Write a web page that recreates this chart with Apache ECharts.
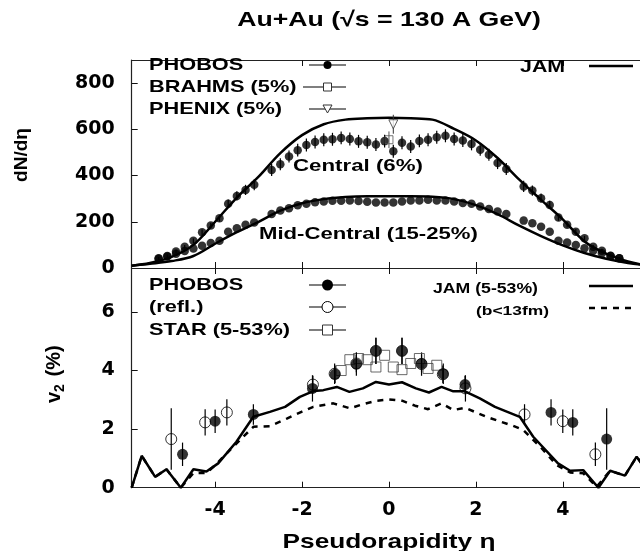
<!DOCTYPE html>
<html><head><meta charset="utf-8">
<script src="https://cdn.jsdelivr.net/npm/echarts@6/dist/echarts.min.js"></script>
<style>html,body{margin:0;padding:0;background:#fff}#c{width:640px;height:551px}</style>
</head><body><div id="c"></div>
<script>
// ---------- data: top panel (dN/deta) ----------
const etaBins = [-5.3,-5.1,-4.9,-4.7,-4.5,-4.3,-4.1,-3.9,-3.7,-3.5,-3.3,-3.1,-2.7,-2.5,-2.3,-2.1,-1.9,-1.7,-1.5,-1.3,-1.1,-0.9,-0.7,-0.5,-0.3,-0.1,0.1,0.3,0.5,0.7,0.9,1.1,1.3,1.5,1.7,1.9,2.1,2.3,2.5,2.7,3.1,3.3,3.5,3.7,3.9,4.1,4.3,4.5,4.7,4.9,5.1,5.3];
const phobosCentral = [42,52,71,92,118,155,184,215,278,312,338,360,424,449,482,510,532,545,555,557,563,558,548,544,534,549,505,542,526,550,555,566,572,558,552,537,512,490,454,428,353,335,302,273,218,187,157,129,92,75,53,42];
const phobosCentralErr = [6,6,8,8,10,12,12,14,18,20,22,24,26,26,26,28,28,28,28,28,28,28,28,28,28,28,28,28,28,28,28,28,28,28,28,28,26,26,26,26,24,22,20,18,14,12,12,10,8,8,6,6];
const phobosMid = [40,50,62,74,84,96,108,118,157,172,187,197,234,249,259,272,278,285,288,291,291,292,290,287,283,283,283,288,292,292,295,292,292,288,281,278,266,255,244,234,205,194,179,157,118,110,100,85,75,64,52,42];
const jamEta = [-5.92,-5.5,-5.0,-4.5,-4.0,-3.5,-3.0,-2.5,-2.0,-1.5,-1.0,-0.5,0,0.5,1.0,1.5,2.0,2.5,3.0,3.5,4.0,4.5,5.0,5.5,5.92];
const jamCentral = [10,22,48,100,200,305,395,497,575,622,642,648,650,648,642,602,552,476,382,295,210,115,62,28,12];
const jamMid = [10,18,30,52,105,155,200,248,280,298,307,310,310,310,308,298,272,233,183,138,98,65,40,22,12];
const brahmsEta = [0.0], brahmsVal = [555], brahmsErr = [36];
const phenixEta = [0.1], phenixVal = [622], phenixErr = [41];

// ---------- data: bottom panel (v2) ----------
const v2PhobosEta = [-4.75,-4.0,-3.12,-1.76,-1.24,-0.75,-0.3,0.3,0.75,1.25,1.75,3.73,4.23,5.01];
const v2Phobos    = [1.14,2.27,2.50,3.39,3.87,4.22,4.67,4.67,4.24,3.89,3.52,2.57,2.23,1.66];
const v2PhobosErr = [0.4,0.4,0.35,0.45,0.3,0.4,0.45,0.45,0.3,0.35,0.3,0.45,0.45,1.05];
const v2ReflEta = [4.75,4.0,3.12,1.76,1.24,0.75,0.3,-0.3,-0.75,-1.25,-1.75,-3.73,-4.23,-5.01];
const v2Refl    = [1.14,2.27,2.50,3.39,3.87,4.22,4.67,4.67,4.24,3.89,3.52,2.57,2.23,1.66];
const v2ReflErr = [0.4,0.4,0.35,0.45,0.3,0.4,0.45,0.45,0.3,0.35,0.3,0.45,0.45,1.05];
const starEta = [-1.1,-0.9,-0.7,-0.5,-0.3,-0.1,0.1,0.3,0.5,0.7,0.9,1.1];
const starV2  = [4.0,4.37,4.41,4.37,4.12,4.52,4.12,4.03,4.24,4.41,4.07,4.18];
const jamV2Eta = [-5.92,-5.69,-5.38,-5.12,-4.79,-4.5,-4.2,-3.93,-3.51,-3.12,-2.74,-2.39,-2.05,-1.74,-1.51,-1.2,-0.91,-0.6,-0.3,0,0.3,0.62,0.92,1.21,1.48,1.75,2.09,2.44,3.01,3.32,3.89,4.17,4.47,4.82,5.09,5.43,5.70,5.92];
const jamV2    = [0,1.09,0.37,0.63,0,0.63,0.55,0.83,1.57,2.42,2.59,2.76,3.1,3.3,3.33,3.44,3.27,3.39,3.61,3.52,3.6,3.39,3.25,3.44,3.29,3.29,3.05,2.76,2.42,1.74,0.83,0.58,0.6,0,0.58,0.41,1.06,0.6];
const jamBEta = [-5.92,-5.69,-5.38,-5.12,-4.79,-4.5,-4.2,-4.0,-3.58,-3.12,-2.74,-2.35,-2.0,-1.74,-1.28,-0.9,-0.6,-0.28,0,0.3,0.6,0.9,1.21,1.48,1.75,2.24,2.86,3.09,3.48,3.86,4.17,4.47,4.78,5.09,5.43,5.70,5.92];
const jamB    = [0,1.09,0.37,0.63,0,0.5,0.5,0.77,1.4,2.08,2.1,2.36,2.6,2.76,2.88,2.71,2.85,2.97,3.01,2.97,2.8,2.68,2.88,2.65,2.73,2.42,2.11,1.97,1.4,0.77,0.52,0.49,0.03,0.58,0.41,1.06,0.6];

// ---------- tick labels ----------
const xTicks = [-4,-2,0,2,4];
const yTopTicks = [0,200,400,600,800];
const yBotTicks = [0,2,4,6];

const zip = (a,b,c) => a.map((v,i)=> c ? [v,b[i],c[i]] : [v,b[i]]);
const FONT = '"Liberation Sans", Arial, sans-serif';
const TICKFONT = '"DejaVu Sans", sans-serif';

function errBar(color, lw){
  return function(params, api){
    const x = api.value(0), y = api.value(1), e = api.value(2);
    const p1 = api.coord([x, y - e]), p2 = api.coord([x, y + e]);
    return {type:'line', shape:{x1:p1[0],y1:p1[1],x2:p2[0],y2:p2[1]}, style:{stroke:color, lineWidth:lw}};
  };
}

const chart = echarts.init(document.getElementById('c'), null, {renderer:'canvas'});
const L = 131.7;
const AXLINE = {show:true, onZero:false, lineStyle:{color:'#222', width:1.2}};
const axisBase = (gi, pos, labels) => ({
  type:'value', gridIndex:gi, position:pos, min:-5.92, max:5.777,
  axisLine:AXLINE, splitLine:{show:false},
  axisTick:{show:true, inside:true, length:6, customValues:xTicks, lineStyle:{color:'#111', width:1}},
  axisLabel: labels ? {show:true, customValues:xTicks, margin:13, fontFamily:TICKFONT, fontWeight:'bold', fontSize:19, color:'#000'} : {show:false}
});

function txt(x, y, text, size, opts){
  opts = opts || {};
  return {type:'text', x:x, y:y, scaleX: opts.sx || 1.28, scaleY:1, z:100,
    style:{text:text, font:'bold '+size+'px '+FONT, fill:'#000',
      textAlign: opts.align || 'left', align: opts.align || 'left',
      textVerticalAlign:'middle', verticalAlign:'middle'}};
}
function lineG(x1,y1,x2,y2,w,dash){
  return {type:'line', z:100, shape:{x1:x1,y1:y1,x2:x2,y2:y2}, style:{stroke:'#000', lineWidth:w, lineDash:dash||null}};
}

const graphics = [
  txt(389, 20, 'Au+Au (\u221As = 130 A GeV)', 21, {align:'center', sx:1.27}),
  txt(389, 542, 'Pseudorapidity \u03b7', 20.5, {align:'center', sx:1.28}),
  {type:'text', x:22, y:155, rotation:Math.PI/2, z:100, style:{text:'dN/d\u03b7', font:'bold 19px '+FONT, fill:'#000', textAlign:'center', align:'center', textVerticalAlign:'middle', verticalAlign:'middle'}},
  {type:'group', x:54, y:376, rotation:Math.PI/2, z:100, children:[
    {type:'text', x:-27, y:0, style:{text:'v', font:'bold 20px '+FONT, fill:'#000', textAlign:'left', align:'left', textVerticalAlign:'middle', verticalAlign:'middle'}},
    {type:'text', x:-16, y:6, style:{text:'2', font:'bold 14px '+FONT, fill:'#000', textAlign:'left', align:'left', textVerticalAlign:'middle', verticalAlign:'middle'}},
    {type:'text', x:-6, y:0, style:{text:' (%)', font:'bold 20px '+FONT, fill:'#000', textAlign:'left', align:'left', textVerticalAlign:'middle', verticalAlign:'middle'}}
  ]},
  // top legend
  txt(149, 65, 'PHOBOS', 17), txt(149, 87, 'BRAHMS (5%)', 17), txt(149, 109, 'PHENIX (5%)', 17),
  lineG(309,65,346,65,1.2), {type:'circle', z:101, shape:{cx:327.5, cy:65, r:4}, style:{fill:'#000'}},
  lineG(303,87,346,87,1.2), {type:'rect', z:101, shape:{x:323.5, y:83, width:8, height:8}, style:{fill:'#fff', stroke:'#333', lineWidth:1}},
  lineG(309,109,346,109,1.2), {type:'polygon', z:101, shape:{points:[[323,105],[332,105],[327.5,113]]}, style:{fill:'#fff', stroke:'#333', lineWidth:1}},
  txt(520, 67, 'JAM', 16.7), lineG(589,66,633,66,2.5),
  txt(293, 166, 'Central (6%)', 17.4),
  txt(259, 234, 'Mid-Central (15-25%)', 17.3),
  // bottom legend
  txt(149, 285, 'PHOBOS', 17), txt(149, 307, '(refl.)', 17), txt(149, 330, 'STAR (5-53%)', 17),
  lineG(309,285,346,285,1.2), {type:'circle', z:101, shape:{cx:327.5, cy:285, r:5.5}, style:{fill:'#000'}},
  lineG(309,307,346,307,1.2), {type:'circle', z:101, shape:{cx:327.5, cy:307, r:5.5}, style:{fill:'#fff', stroke:'#000', lineWidth:1}},
  lineG(309,330,346,330,1.2), {type:'rect', z:101, shape:{x:322.5, y:325, width:10, height:10}, style:{fill:'#fff', stroke:'#333', lineWidth:1}},
  txt(433, 289, 'JAM (5-53%)', 13.8), txt(476, 311, '(b<13fm)', 13.6),
  lineG(589,286,633,286,2.5), lineG(589,308,633,308,2.5,[6,6])
];

const option = {
  animation:false,
  backgroundColor:'#fff',
  grid:[
    {left:L, top:60, right:0, height:208, show:false},
    {left:L, top:268, right:0, height:219.7, show:false}
  ],
  xAxis:[
    axisBase(0,'bottom',false), axisBase(0,'top',false),
    axisBase(1,'bottom',true), axisBase(1,'top',false)
  ],
  yAxis:[
    {type:'value', gridIndex:0, position:'left', min:0, max:900, axisLine:AXLINE, splitLine:{show:false},
     axisTick:{show:true, inside:true, length:6, customValues:[200,400,600,800], lineStyle:{color:'#111', width:1}},
     axisLabel:{customValues:yTopTicks, margin:17, fontFamily:TICKFONT, fontWeight:'bold', fontSize:19, color:'#000'}},
    {type:'value', gridIndex:1, position:'left', min:0, max:7.5, axisLine:AXLINE, splitLine:{show:false},
     axisTick:{show:true, inside:true, length:6, customValues:[2,4,6], lineStyle:{color:'#111', width:1}},
     axisLabel:{customValues:yBotTicks, margin:17, fontFamily:TICKFONT, fontWeight:'bold', fontSize:19, color:'#000'}}
  ],
  series:[
    {type:'line', xAxisIndex:0, yAxisIndex:0, data:zip(jamEta,jamCentral), smooth:0.35, showSymbol:false, lineStyle:{color:'#000', width:2.5}, z:3},
    {type:'line', xAxisIndex:0, yAxisIndex:0, data:zip(jamEta,jamMid), smooth:0.35, showSymbol:false, lineStyle:{color:'#000', width:2.5}, z:3},
    {type:'custom', xAxisIndex:0, yAxisIndex:0, data:zip(etaBins,phobosCentral,phobosCentralErr), renderItem:errBar('#000',1.2), encode:{x:0,y:1}, z:4},
    {type:'scatter', xAxisIndex:0, yAxisIndex:0, data:zip(etaBins,phobosCentral), symbol:'circle', symbolSize:8.5, itemStyle:{color:'#000'}, z:5},
    {type:'scatter', xAxisIndex:0, yAxisIndex:0, data:zip(etaBins,phobosMid), symbol:'circle', symbolSize:8.5, itemStyle:{color:'#000'}, z:5},
    {type:'custom', xAxisIndex:0, yAxisIndex:0, data:zip(brahmsEta,brahmsVal,brahmsErr), renderItem:errBar('#555',1), encode:{x:0,y:1}, z:6},
    {type:'scatter', xAxisIndex:0, yAxisIndex:0, data:zip(brahmsEta,brahmsVal), symbol:'rect', symbolSize:8, itemStyle:{color:'rgba(255,255,255,0)', borderColor:'#555', borderWidth:1}, z:6},
    {type:'custom', xAxisIndex:0, yAxisIndex:0, data:zip(phenixEta,phenixVal,phenixErr), renderItem:errBar('#333',1), encode:{x:0,y:1}, z:6},
    {type:'scatter', xAxisIndex:0, yAxisIndex:0, data:zip(phenixEta,phenixVal), symbol:'triangle', symbolRotate:180, symbolSize:9, itemStyle:{color:'#fff', borderColor:'#333', borderWidth:1}, z:6},

    {type:'line', xAxisIndex:2, yAxisIndex:1, data:zip(jamV2Eta,jamV2), showSymbol:false, lineStyle:{color:'#000', width:2.5}, z:3},
    {type:'line', xAxisIndex:2, yAxisIndex:1, data:zip(jamBEta,jamB), showSymbol:false, lineStyle:{color:'#000', width:2.5, type:[6,6]}, z:3},
    {type:'custom', xAxisIndex:2, yAxisIndex:1, data:zip(v2ReflEta,v2Refl,v2ReflErr), renderItem:errBar('#000',1.2), encode:{x:0,y:1}, z:4},
    {type:'scatter', xAxisIndex:2, yAxisIndex:1, data:zip(v2ReflEta,v2Refl), symbol:'circle', symbolSize:11, itemStyle:{color:'rgba(255,255,255,0)', borderColor:'#000', borderWidth:1}, z:4},
    {type:'scatter', xAxisIndex:2, yAxisIndex:1, data:zip(starEta,starV2), symbol:'rect', symbolSize:10, itemStyle:{color:'rgba(255,255,255,0)', borderColor:'#444', borderWidth:1}, z:5},
    {type:'custom', xAxisIndex:2, yAxisIndex:1, data:zip(v2PhobosEta,v2Phobos,v2PhobosErr), renderItem:errBar('#000',1.2), encode:{x:0,y:1}, z:6},
    {type:'scatter', xAxisIndex:2, yAxisIndex:1, data:zip(v2PhobosEta,v2Phobos), symbol:'circle', symbolSize:11, itemStyle:{color:'#000'}, z:6}
  ],
  graphic: graphics
};
chart.setOption(option);
</script></body></html>
